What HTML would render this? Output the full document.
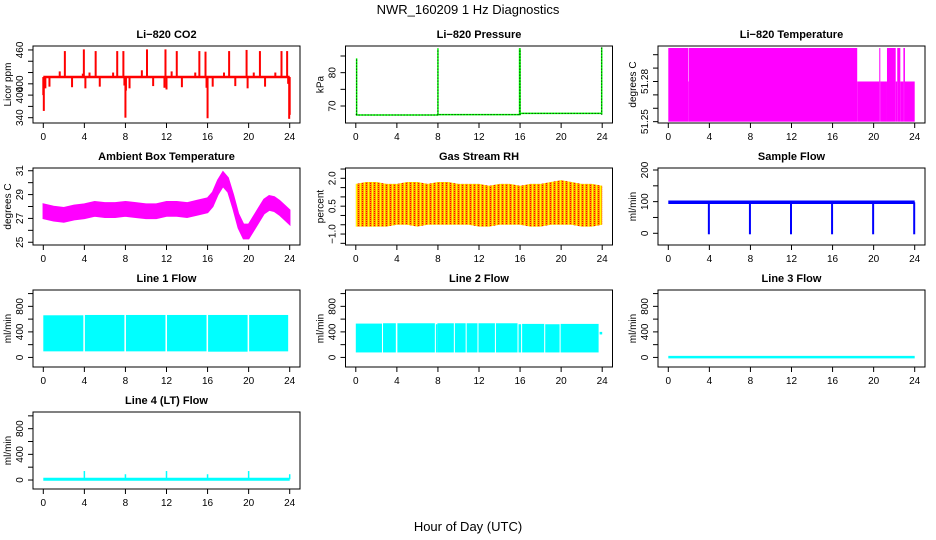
<!DOCTYPE html>
<html><head><meta charset="utf-8"><style>
html,body{margin:0;padding:0;background:#fff;}
svg{display:block;font-family:"Liberation Sans",Arial,sans-serif;}
</style></head><body>
<svg id="c" width="936" height="540" viewBox="0 0 936 540" xmlns="http://www.w3.org/2000/svg">
<defs>
<pattern id="rhpat" width="4" height="4" patternUnits="userSpaceOnUse">
<rect width="4" height="4" fill="#ffa500"/>
<rect x="0" y="0" width="1" height="4" fill="#ffff00"/>
<rect x="2" y="1" width="1" height="1" fill="#ff0000"/>
<rect x="2" y="3" width="1" height="1" fill="#ff0000"/>
</pattern>
</defs>
<text x="468" y="14" text-anchor="middle" font-size="13">NWR_160209  1 Hz Diagnostics</text>
<text x="468" y="531" text-anchor="middle" font-size="13">Hour of Day (UTC)</text>
</svg>
<script>
// ---- data ----
const xTicks = [0,4,8,12,16,20,24];
const co2Base = 412;
const co2SpikeHours = [0.0,0.05,0.2,0.6,1.6,2.1,2.8,3.85,3.95,4.1,4.5,5.1,5.5,6.8,7.2,7.8,7.9,8.0,8.05,8.4,9.6,10.1,10.7,11.8,11.9,12.0,12.5,13.0,13.5,14.8,15.2,15.8,15.9,16.0,16.5,17.6,18.1,18.7,19.8,19.9,20.5,21.1,21.6,22.6,23.2,23.75,23.85,23.95,24.0];
const co2SpikeValues = [380,352,392,395,422,458,394,418,461,392,420,458,395,420,458,458,397,340,388,392,424,461,396,393,461,390,422,458,394,420,458,457,393,339,395,420,458,396,460,392,420,458,395,420,458,458,400,338,345];
const presHours = [0,0.05,0.08,8,8.05,16,16.05,24];
const presLevels = [67.4,67.4,67.3,67.3,67.4,67.4,67.8,67.8];
const presSpikeHours = [0.08,8.0,15.95,16.0,23.95];
const presSpikeValues = [84.3,87.3,87.3,87.3,87.6];
const tempHours = [0,1.95,2.0,18.4,20.55,20.65,21.3,22.15,22.3,22.6,22.9,23.05,24];
const tempValues = [51.305,51.28,51.305,51.28,51.305,51.28,51.305,51.28,51.305,51.28,51.305,51.28];
const ambHours = [0,1,2,3,4,5,6,7,8,9,10,11,12,13,14,15,16,16.5,17,17.5,18,18.5,19,19.5,20,20.5,21,21.5,22,22.5,23,23.5,24];
const ambMid = [27.6,27.4,27.3,27.5,27.6,27.8,27.7,27.7,27.8,27.7,27.6,27.6,27.8,27.8,27.7,27.9,28.1,28.6,29.6,30.3,29.8,28.4,26.8,25.9,25.9,26.6,27.3,28.0,28.3,28.2,27.9,27.5,27.1];
const ambHalf = 0.6;
const rhHours = [0,1,2,3,4,5,6,7,8,9,10,11,12,13,14,15,16,17,18,19,20,21,22,23,24];
const rhHigh = [1.7,1.8,1.8,1.7,1.7,1.8,1.8,1.7,1.8,1.8,1.7,1.7,1.7,1.6,1.7,1.7,1.6,1.7,1.7,1.8,1.9,1.8,1.7,1.7,1.6];
const rhLow = [-0.6,-0.6,-0.6,-0.6,-0.5,-0.5,-0.6,-0.5,-0.5,-0.5,-0.5,-0.5,-0.6,-0.6,-0.5,-0.5,-0.5,-0.6,-0.6,-0.5,-0.5,-0.5,-0.6,-0.6,-0.5];
const sampleBase = 98;
const sampleDipHours = [4,8,12,16,20,24];
const sampleDipValues = [0,0,0,0,0,0];
const line1Starts = [0,4.05,8.05,12.05,16.05,20.05,23.95];
const line1Ends = [3.9,7.9,11.9,15.9,19.9,23.85,24];
const line1Top = [660,665,665,665,665,665,560];
const line1Bottom = [95,95,95,95,90,95,560];
const line2Starts = [0,2.65,4.05,7.8,7.95,9.65,10.8,11.95,13.65,15.85,16.2,18.45,19.95,23.75];
const line2Ends = [2.55,3.9,7.7,7.85,9.55,10.7,11.85,13.55,15.75,16.1,18.35,19.85,23.65,24];
const line2Top = [530,535,535,520,535,535,535,535,535,520,525,520,525,400];
const line2Bottom = [78,78,78,78,78,78,78,78,78,78,78,78,78,360];
const line3Value = 5;
const line4Base = 12;
const line4SpikeHours = [4,8,12,16,20,24];
const line4SpikeValues = [140,90,140,90,140,90];

// ---- layout ----
const NS = "http://www.w3.org/2000/svg";
const svg = document.getElementById('c');
const colL = [33,345.5,658], W = 267, rowT = [46,168,290,412], H = 77;
function mk(tag, attrs, parent){const e=document.createElementNS(NS,tag);for(const k in attrs)e.setAttribute(k,attrs[k]);(parent||svg).appendChild(e);return e;}

function panel(name,col,row,ymin,ymax,yTicks,yLabVals,yLabTxt,ytitle,title){
  const L=colL[col],T=rowT[row],R=L+W,B=T+H;
  const g=mk('g',{});
  
  
  const sx=h=>L+10.3+h*(W-20.6)/24;
  const sy=v=>B-(v-ymin)/(ymax-ymin)*H;
  const t=mk('text',{x:(L+R)/2,y:T-8,'text-anchor':'middle','font-size':11,'font-weight':'bold'},g);
  t.textContent=title;
  
  
  const plot=mk('g',{},g);
  
  
  const ax=mk('g',{stroke:'#000','stroke-width':1,fill:'none'},g);
  
  
  mk('rect',{x:L,y:T,width:W,height:H},ax);
  mk('line',{x1:sx(0),x2:sx(24),y1:B,y2:B},ax);
  xTicks.forEach(h=>{
    mk('line',{x1:sx(h),x2:sx(h),y1:B,y2:B+5},ax);
    const lt=mk('text',{x:sx(h),y:B+17,'text-anchor':'middle','font-size':10,stroke:'none',fill:'#000'},g);
    lt.textContent=h;
    
    
  });
  mk('line',{x1:L,x2:L,y1:sy(yTicks[0]),y2:sy(yTicks[yTicks.length-1])},ax);
  yTicks.forEach(v=>mk('line',{x1:L-5,x2:L,y1:sy(v),y2:sy(v)},ax));
  yLabVals.forEach((v,i)=>{
    const yy=sy(v);
    const lt=mk('text',{x:L-10,y:yy,'text-anchor':'middle','font-size':10,transform:`rotate(-90 ${L-10} ${yy})`},g);
    lt.textContent=yLabTxt[i];
    
    
  });
  const yc=(T+B)/2;
  const yt=mk('text',{x:L-22,y:yc,'text-anchor':'middle','font-size':10,transform:`rotate(-90 ${L-22} ${yc})`},g);
  yt.textContent=ytitle;
  
  
  return {sx,sy,plot};
}

// CO2
(function(){
  const p=panel('co2',0,0,330.6,467,[340,360,380,400,420,440,460],[340,380,400,460],['340','400','400','460'],'Licor ppm','Li\u2212820 CO2');
  co2SpikeHours.forEach((h,i)=>mk('line',{x1:p.sx(h),x2:p.sx(h),y1:p.sy(co2Base),y2:p.sy(co2SpikeValues[i]),stroke:'#ff0000','stroke-width':2},p.plot));
  mk('line',{x1:p.sx(0),x2:p.sx(24),y1:p.sy(co2Base),y2:p.sy(co2Base),stroke:'#ff0000','stroke-width':2.5},p.plot);
})();
// Pressure
(function(){
  const p=panel('pressure',1,0,64.9,88,[70,75,80,85],[70,80],['70','80'],'kPa','Li\u2212820 Pressure');
  let d='';presHours.forEach((h,i)=>{d+=(i?'L':'M')+p.sx(h)+' '+p.sy(presLevels[i]);});
  mk('path',{d,stroke:'#00ff00','stroke-width':1.5,fill:'none'},p.plot);
  mk('path',{d,stroke:'#000','stroke-width':1,'stroke-dasharray':'1 2',fill:'none'},p.plot);
  presSpikeHours.forEach((h,i)=>{
    mk('line',{x1:p.sx(h),x2:p.sx(h),y1:p.sy(67.4),y2:p.sy(presSpikeValues[i]),stroke:'#00ff00','stroke-width':1.5},p.plot);
    mk('line',{x1:p.sx(h),x2:p.sx(h),y1:p.sy(67.4),y2:p.sy(presSpikeValues[i]),stroke:'#000','stroke-width':1,'stroke-dasharray':'1 2'},p.plot);
  });
})();
// Temperature
(function(){
  const ymin=51.249,ymax=51.3065;
  const p=panel('li820-temperature',2,0,ymin,ymax,[51.25,51.26,51.27,51.28,51.29,51.30],[51.25,51.28],['51.25','51.28'],'degrees C','Li\u2212820 Temperature');
  tempValues.forEach((v,i)=>{
    const x1=p.sx(tempHours[i]),x2=p.sx(tempHours[i+1]);
    mk('rect',{x:x1,y:p.sy(v),width:Math.max(1,x2-x1),height:p.sy(51.25)-p.sy(v),fill:'#ff00ff'},p.plot);
  });
})();
// Ambient
(function(){
  const p=panel('ambient-temperature',0,1,24.77,31.23,[25,26,27,28,29,30,31],[25,27,29,31],['25','27','29','31'],'degrees C','Ambient Box Temperature');
  let top='',bot='';
  ambHours.forEach((h,i)=>{top+=(i?'L':'M')+p.sx(h)+' '+p.sy(ambMid[i]+ambHalf);});
  for(let i=ambHours.length-1;i>=0;i--)bot+='L'+p.sx(ambHours[i])+' '+p.sy(ambMid[i]-ambHalf);
  mk('path',{d:top+bot+'Z',fill:'#ff00ff',stroke:'#ff00ff','stroke-width':1.5},p.plot);
})();
// RH
(function(){
  const p=panel('gas-stream-rh',1,1,-1.59,2.555,[-1.5,-1.0,-0.5,0,0.5,1.0,1.5,2.0,2.5],[-1.0,0.5,2.0],['\u22121.0','0.5','2.0'],'percent','Gas Stream RH');
  let top='',bot='';
  rhHours.forEach((h,i)=>{top+=(i?'L':'M')+p.sx(h)+' '+p.sy(rhHigh[i]);});
  for(let i=rhHours.length-1;i>=0;i--)bot+='L'+p.sx(rhHours[i])+' '+p.sy(rhLow[i]);
  mk('path',{d:top+bot+'Z',fill:'url(#rhpat)'},p.plot);
})();
// Sample flow
(function(){
  const p=panel('sample-flow',2,1,-37,206.3,[0,50,100,150,200],[0,100,200],['0','100','200'],'ml/min','Sample Flow');
  mk('line',{x1:p.sx(0),x2:p.sx(24),y1:p.sy(sampleBase),y2:p.sy(sampleBase),stroke:'#0000ff','stroke-width':3.5},p.plot);
  sampleDipHours.forEach((h,i)=>mk('line',{x1:p.sx(h)-0.5,x2:p.sx(h)-0.5,y1:p.sy(sampleBase),y2:p.sy(sampleDipValues[i])+1,stroke:'#0000ff','stroke-width':2},p.plot));
})();
// flows
const fT=[0,200,400,600,800,1000],fL=[0,400,800],fLT=['0','400','800'];
function bands(name,col,row,title,starts,ends,tops,bots){
  const p=panel(name,col,row,-150,1056,fT,fL,fLT,'ml/min',title);
  starts.forEach((s,i)=>{const x1=p.sx(s),x2=p.sx(ends[i]);
    mk('rect',{x:x1,y:p.sy(tops[i]),width:Math.max(1.5,x2-x1),height:p.sy(bots[i])-p.sy(tops[i]),fill:'#00ffff'},p.plot);});
  return p;
}
bands('line1-flow',0,2,'Line 1 Flow',line1Starts,line1Ends,line1Top,line1Bottom);
bands('line2-flow',1,2,'Line 2 Flow',line2Starts,line2Ends,line2Top,line2Bottom);
(function(){
  const p=panel('line3-flow',2,2,-150,1056,fT,fL,fLT,'ml/min','Line 3 Flow');
  mk('line',{x1:p.sx(0),x2:p.sx(24),y1:p.sy(line3Value),y2:p.sy(line3Value),stroke:'#00ffff','stroke-width':2.5},p.plot);
})();
(function(){
  const p=panel('line4-flow',0,3,-140,1060,fT,fL,fLT,'ml/min','Line 4 (LT) Flow');
  mk('line',{x1:p.sx(0),x2:p.sx(24),y1:p.sy(line4Base),y2:p.sy(line4Base),stroke:'#00ffff','stroke-width':3},p.plot);
  line4SpikeHours.forEach((h,i)=>mk('line',{x1:p.sx(h),x2:p.sx(h),y1:p.sy(line4Base),y2:p.sy(line4SpikeValues[i]),stroke:'#00ffff','stroke-width':1.5},p.plot));
})();
</script>
</body></html>
